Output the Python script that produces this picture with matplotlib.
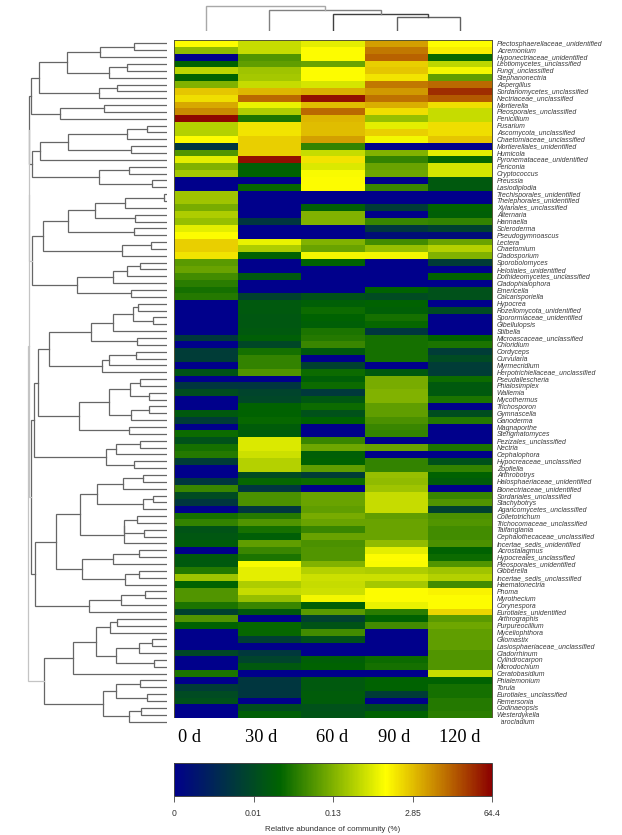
import matplotlib
matplotlib.use("Agg")
import matplotlib.pyplot as plt
import numpy as np
from matplotlib.colors import LinearSegmentedColormap
from matplotlib.patches import Rectangle

W, H = 622, 835

taxa = [
    "Plectosphaerellaceae_unidentified", "Acremonium", "Hyponectriaceae_unidentified",
    "Leotiomycetes_unclassified", "Fungi_unclassified", "Stephanonectria", "Aspergillus",
    "Sordariomycetes_unclassified", "Nectriaceae_unclassified", "Mortierella",
    "Pleosporales_unclassified", "Penicillium", "Fusarium", "Ascomycota_unclassified",
    "Chaetomiaceae_unclassified", "Mortierellales_unidentified", "Humicola",
    "Pyronemataceae_unidentified", "Periconia", "Cryptococcus", "Preussia", "Lasiodiplodia",
    "Trechisporales_unidentified", "Thelephorales_unidentified", "Xylariales_unclassified",
    "Alternaria", "Hannaella", "Scleroderma", "Pseudogymnoascus", "Lectera", "Chaetomium",
    "Cladosporium", "Sporobolomyces", "Helotiales_unidentified", "Dothideomycetes_unclassified",
    "Cladophialophora", "Emericella", "Calcarisporiella", "Hypocrea", "Rozellomycota_unidentified",
    "Sporormiaceae_unidentified", "Gibellulopsis", "Stilbella", "Microascaceae_unclassified",
    "Chloridium", "Cordyceps", "Curvularia", "Myrmecridium", "Herpotrichiellaceae_unclassified",
    "Pseudallescheria", "Phialosimplex", "Wallemia", "Mycothermus", "Trichosporon", "Gymnascella",
    "Ganoderma", "Magnaporthe", "Sterigmatomyces", "Pezizales_unclassified", "Nectria",
    "Cephalophora", "Hypocreaceae_unclassified", "Zopfiella", "Arthrobotrys",
    "Halosphaeriaceae_unidentified", "Bionectriaceae_unidentified", "Sordariales_unclassified",
    "Stachybotrys", "Agaricomycetes_unclassified", "Colletotrichum", "Trichocomaceae_unclassified",
    "Taifanglania", "Cephalothecaceae_unclassified", "Incertae_sedis_unidentified", "Acrostalagmus",
    "Hypocreales_unclassified", "Pleosporales_unidentified", "Gibberella",
    "Incertae_sedis_unclassified", "Haematonectria", "Phoma", "Myrothecium", "Corynespora",
    "Eurotiales_unidentified", "Arthrographis", "Purpureocillium", "Myceliophthora", "Gliomastix",
    "Lasiosphaeriaceae_unclassified", "Cladorrhinum", "Cylindrocarpon", "Microdochium",
    "Ceratobasidium", "Phialemonium", "Torula", "Eurotiales_unclassified", "Remersonia",
    "Codinaeopsis", "Westerdykella", "Sarocladium",
]

# cell values on the colour bar scale, 0 (abundance 0) to 100 (abundance 64.4)
day0 = [67, 52, 0, 33, 58, 33, 50, 74, 71, 78,
        82, 99, 57, 57, 67, 18, 44, 63, 50, 55,
        0, 0, 54, 54, 49, 56, 53, 63, 67, 73,
        73, 70, 45, 47, 42, 39, 36, 38, 0, 0,
        0, 0, 0, 19, 0, 20, 20, 0, 28, 0,
        18, 26, 0, 0, 30, 20, 0, 35, 27, 36,
        38, 20, 0, 0, 18, 41, 25, 18, 0, 36,
        40, 28, 29, 31, 0, 30, 30, 38, 54, 33,
        44, 44, 37, 22, 44, 33, 0, 0, 0, 24,
        0, 0, 37, 0, 20, 25, 27, 0, 0, 0]
day30 = [59, 59, 44, 46, 54, 55, 59, 76, 86, 64,
         56, 37, 70, 70, 73, 73, 73, 98, 32, 33,
         0, 34, 0, 0, 0, 0, 18, 0, 0, 64,
         56, 33, 0, 0, 30, 0, 0, 22, 30, 30,
         29, 29, 30, 32, 24, 36, 40, 40, 44, 0,
         18, 23, 24, 33, 33, 34, 31, 31, 62, 62,
         60, 57, 57, 25, 34, 18, 43, 43, 18, 38,
         44, 36, 32, 46, 41, 37, 66, 63, 63, 56,
         59, 53, 41, 30, 0, 34, 34, 21, 0, 19,
         23, 30, 0, 18, 18, 18, 0, 26, 32, 0]
day60 = [63, 67, 67, 47, 67, 67, 61, 77, 98, 75,
         86, 76, 75, 75, 79, 40, 59, 70, 62, 66,
         67, 67, 0, 0, 32, 50, 50, 0, 0, 50,
         47, 65, 33, 0, 0, 0, 0, 27, 32, 35,
         33, 32, 37, 38, 41, 30, 0, 22, 35, 32,
         35, 19, 29, 35, 27, 33, 0, 0, 41, 48,
         32, 33, 46, 20, 35, 0, 47, 47, 46, 49,
         47, 41, 47, 43, 44, 44, 50, 57, 60, 59,
         60, 65, 32, 45, 22, 28, 42, 27, 0, 0,
         32, 33, 0, 30, 30, 31, 31, 27, 28, 0]
day90 = [79, 84, 87, 73, 74, 70, 84, 80, 85, 77,
         71, 53, 63, 73, 65, 0, 50, 40, 47, 48,
         0, 41, 0, 0, 20, 0, 41, 18, 5, 42,
         53, 65, 0, 0, 0, 0, 33, 25, 33, 32,
         36, 34, 18, 36, 36, 36, 36, 0, 30, 49,
         49, 50, 50, 46, 46, 43, 41, 40, 0, 47,
         0, 40, 40, 53, 52, 54, 59, 59, 59, 46,
         47, 47, 47, 52, 63, 67, 66, 56, 60, 55,
         67, 67, 64, 39, 33, 42, 0, 0, 0, 0,
         35, 36, 0, 33, 33, 20, 0, 25, 33, 0]
day120 = [67, 69, 34, 58, 65, 46, 86, 94, 88, 71,
          59, 59, 71, 71, 74, 0, 63, 34, 61, 61,
          30, 30, 0, 0, 33, 32, 40, 22, 4, 47,
          57, 50, 20, 0, 33, 0, 27, 27, 0, 25,
          0, 0, 0, 33, 37, 20, 25, 20, 20, 35,
          30, 30, 37, 0, 26, 38, 0, 0, 0, 37,
          0, 27, 40, 33, 31, 0, 41, 44, 22, 43,
          44, 42, 42, 43, 33, 35, 44, 54, 57, 42,
          68, 67, 67, 72, 45, 48, 46, 46, 46, 44,
          44, 44, 59, 33, 36, 36, 38, 38, 39, 40]

day_labels = ["0 d", "30 d", "60 d", "90 d", "120 d"]
day_label_pos = [190, 261, 332, 394, 460]
bar_ticks = [0, 25, 50, 75, 100]
bar_tick_labels = ["0", "0.01", "0.13", "2.85", "64.4"]

# row tree: [height, child, child], children are rows (from 0) or other nodes
rows_a = [408, [384, [302, [202, [99, 0, 1], 2], [174, [120, 3, 4], 5]], [204, [150, 6, 7], 8]],
          [321, [191, 9, 10], 11]]
rows_b = [407, [381, [299, [120, [61, 12, 13], 14], [108, 15, 16]], 17],
          [204, [116, 18, 19], [45, 20, 21]]]
rows_c = [405, [372, [297, [218, [126, [10, 22, 23], 24], [98, 25, 26]], [99, 27, 28]],
                [135, [50, 29, 30], 31]],
          [270, [164, [120, [83, 32, 33], 34], 35], [109, 36, 37]]]
rows_d = [389, [355, [228, [164, [104, [88, 38, 39], [44, 40, 41]], 42], [90, 43, 44]],
                [195, [175, [94, 45, 46], 47], 48]],
          [266, [174, [112, [82, 49, 50], [56, 51, 52]], [109, [56, 53, 54], 55]], [114, 56, 57]]]
rows_e = [185, [155, [81, 58, 59], 60], [100, 61, 62]]
rows_f = [334, [261, [210, [134, [74, 63, 64], 65], [74, [44, 66, 67], 68]],
                [131, [129, [90, 69, 70], [69, 71, 72]], 73]],
          [256, [162, [85, 74, 75], 76], [126, [84, 77, 78], 79]]]
rows_g = [234, [139, [67, 80, 81], 82], 83]
rows_h = [371, [283, [213, [173, [150, 84, 85], 86], [155, [85, [46, 87, 88], 89], [39, 90, 91]]], 92],
          [192, [153, [83, 93, 94], [62, 95, 96]], [114, [78, 97, 98], 99]]]
row_tree = [417,
            [416, [416, [414, rows_a, rows_b], rows_c],
             [410, [399, rows_d, rows_e], [396, rows_f, rows_g]]],
            rows_h]

# column tree over the five days
col_tree = [25, 0, [21, 1, [17, 2, [14, 3, 4]]]]
col_colors = {25: "#a8a8a8", 21: "#808080", 17: "#404040", 14: "#606060"}


def fig_axes(fig, left, top, right, bottom):
    return fig.add_axes([left / W, 1 - bottom / H, (right - left) / W, (bottom - top) / H])


def draw_row_tree(ax, node):
    if not isinstance(node, list):
        return 0, node
    h, a, b = node
    ha, ya = draw_row_tree(ax, a)
    hb, yb = draw_row_tree(ax, b)
    color = "#c4c4c4" if h >= 416 else "#666666"
    ax.plot([ha, h, h, hb], [ya, ya, yb, yb], color=color, lw=0.9, solid_joinstyle="miter")
    return h, (ya + yb) / 2


def draw_col_tree(ax, node):
    if not isinstance(node, list):
        return 0, node
    h, a, b = node
    ha, xa = draw_col_tree(ax, a)
    hb, xb = draw_col_tree(ax, b)
    ax.plot([xa, xa, xb, xb], [ha, h, h, hb], color=col_colors[h], lw=1.0, solid_joinstyle="miter")
    return h, (xa + xb) / 2


def main():
    fig = plt.figure(figsize=(W / 100, H / 100), dpi=100, facecolor="white")
    plt.rcParams["font.family"] = ["Liberation Sans", "DejaVu Sans"]

    cmap = LinearSegmentedColormap.from_list("abund", ["#00008b", "#006400", "#ffff00", "#8b0000"])
    data = np.array([day0, day30, day60, day90, day120]).T

    # heatmap
    ax = fig_axes(fig, 174, 40, 492, 725)
    im = ax.imshow(data, cmap=cmap, vmin=0, vmax=100, aspect="auto", interpolation="nearest")
    ax.set_xticks([])
    ax.yaxis.tick_right()
    ax.set_yticks(range(len(taxa)))
    ax.set_yticklabels(taxa, fontsize=4.95, style="italic", color="#3a3a3a")
    ax.tick_params(axis="y", length=0, pad=3.5)
    for s in ax.spines.values():
        s.set_color("#555533")
        s.set_linewidth(0.7)

    # row dendrogram
    left = fig_axes(fig, 0, 40, 167.3, 725)
    draw_row_tree(left, row_tree)
    left.set_xlim(502, 0)
    left.set_ylim(99.5, -0.5)
    left.axis("off")

    # column dendrogram
    top = fig_axes(fig, 174, 5, 492, 31)
    draw_col_tree(top, col_tree)
    top.set_xlim(-0.5, 4.5)
    top.set_ylim(0, 25.5)
    top.axis("off")

    # the day labels sit on a white box that hides the last row
    fig.add_artist(Rectangle((172 / W, 1 - 760 / H), 328.5 / W, 42 / H, transform=fig.transFigure,
                             facecolor="white", edgecolor="none", zorder=5))
    for lab, x in zip(day_labels, day_label_pos):
        fig.text(x / W, 1 - 742.5 / H, lab, family="Liberation Serif", fontsize=13.2, color="black",
                 ha="center", va="baseline", zorder=6)

    # colour bar
    cax = fig_axes(fig, 174, 763, 492, 796)
    cb = fig.colorbar(im, cax=cax, orientation="horizontal", ticks=bar_ticks)
    cb.set_ticklabels(bar_tick_labels)
    cb.ax.tick_params(length=4, width=0.6, color="#444444", labelsize=6.2, labelcolor="#333333", pad=5)
    cb.outline.set_edgecolor("#444444")
    cb.outline.set_linewidth(0.7)
    fig.text(333 / W, 1 - 829.5 / H, "Relative abundance of community (%)", fontsize=5.8,
             color="#333333", ha="center", va="center")

    fig.savefig("out.png", dpi=100)


if __name__ == "__main__":
    main()
